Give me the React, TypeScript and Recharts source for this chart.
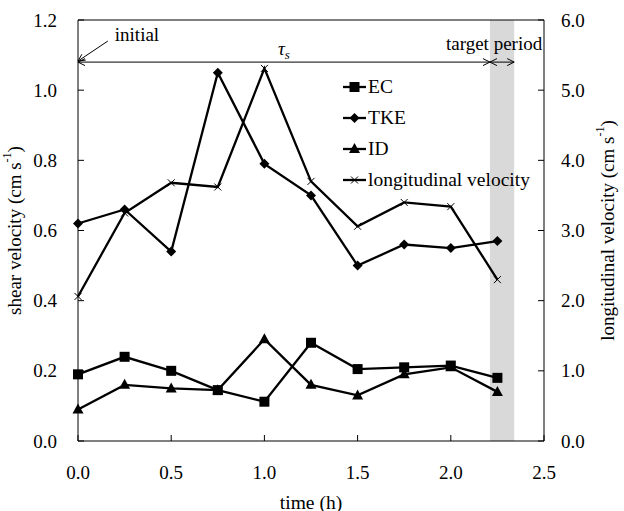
import React from "react";
import {
  ComposedChart,
  Line,
  XAxis,
  YAxis,
  ReferenceArea,
  ReferenceLine,
  Legend,
} from "recharts";

const FONT = '"Liberation Serif", "Times New Roman", serif';

// time (h) and measured values
const times = [0, 0.25, 0.5, 0.75, 1.0, 1.25, 1.5, 1.75, 2.0, 2.25];
const ecValues = [0.19, 0.24, 0.2, 0.145, 0.112, 0.28, 0.205, 0.21, 0.215, 0.18];
const tkeValues = [0.62, 0.66, 0.54, 1.05, 0.79, 0.7, 0.5, 0.56, 0.55, 0.57];
const idValues = [0.09, 0.16, 0.15, 0.145, 0.29, 0.16, 0.13, 0.19, 0.21, 0.14];
const velocityValues = [2.06, 3.25, 3.68, 3.62, 5.31, 3.7, 3.06, 3.4, 3.34, 2.3];

const seriesNames = ["EC", "TKE", "ID", "longitudinal velocity"];
const seriesMarkers = ["square", "diamond", "triangle", "cross"];

const xTicks = [0, 0.5, 1.0, 1.5, 2.0, 2.5];
const leftTicks = [0, 0.2, 0.4, 0.6, 0.8, 1.0, 1.2];
const rightTicks = [0, 1, 2, 3, 4, 5, 6];

const targetPeriod = [2.21, 2.34];
const periodLevel = 1.08;
const initialArrow = [
  { x: 0.16, y: 1.14 },
  { x: 0.0, y: 1.083 },
];

const data = times.map((t, i) => ({
  time: t,
  EC: ecValues[i],
  TKE: tkeValues[i],
  ID: idValues[i],
  velocity: velocityValues[i],
}));

function Marker({ shape, cx, cy }: any) {
  if (cx == null || cy == null) return null;
  if (shape === "square")
    return <rect x={cx - 5} y={cy - 5} width={10} height={10} fill="#000" />;
  if (shape === "diamond")
    return (
      <path
        d={`M${cx},${cy - 5}L${cx + 5},${cy}L${cx},${cy + 5}L${cx - 5},${cy}Z`}
        fill="#000"
      />
    );
  if (shape === "triangle")
    return (
      <path
        d={`M${cx},${cy - 6}L${cx + 5.5},${cy + 4}L${cx - 5.5},${cy + 4}Z`}
        fill="#000"
      />
    );
  return (
    <path
      d={`M${cx - 3.5},${cy - 3.5}L${cx + 3.5},${cy + 3.5}M${cx - 3.5},${cy + 3.5}L${cx + 3.5},${cy - 3.5}`}
      stroke="#000"
      strokeWidth={1}
    />
  );
}

const dotFor = (shape: string) => (p: any) =>
  <Marker key={`${shape}-${p.index}`} shape={shape} cx={p.cx} cy={p.cy} />;

function BottomTick({ x, y, payload }: any) {
  return (
    <g>
      <line x1={x} x2={x} y1={y} y2={y - 6} stroke="#000" />
      <text x={x} y={y + 31} textAnchor="middle" dominantBaseline="central"
        fontSize={19} fontFamily={FONT} fill="#000">
        {Number(payload.value).toFixed(1)}
      </text>
    </g>
  );
}

function LeftTick({ x, y, payload }: any) {
  return (
    <g>
      <line x1={x} x2={x + 6} y1={y} y2={y} stroke="#000" />
      <text x={x - 21} y={y} textAnchor="end" dominantBaseline="central"
        fontSize={19} fontFamily={FONT} fill="#000">
        {Number(payload.value).toFixed(1)}
      </text>
    </g>
  );
}

function RightTick({ x, y, payload }: any) {
  return (
    <g>
      <line x1={x} x2={x - 6} y1={y} y2={y} stroke="#000" />
      <text x={x + 17} y={y} textAnchor="start" dominantBaseline="central"
        fontSize={19} fontFamily={FONT} fill="#000">
        {Number(payload.value).toFixed(1)}
      </text>
    </g>
  );
}

function arrowHead(tx: number, ty: number, fx: number, fy: number) {
  const dx = tx - fx;
  const dy = ty - fy;
  const len = Math.sqrt(dx * dx + dy * dy) || 1;
  const ux = dx / len;
  const uy = dy / len;
  const L = 7;
  const W = 3.5;
  const bx = tx - ux * L;
  const by = ty - uy * L;
  return `M${bx - uy * W},${by + ux * W}L${tx},${ty}L${bx + uy * W},${by - ux * W}`;
}

function ArrowSegment(props: any) {
  const { x1, y1, x2, y2, both, children } = props;
  let d = `M${x1},${y1}L${x2},${y2}` + arrowHead(x2, y2, x1, y1);
  if (both) d += arrowHead(x1, y1, x2, y2);
  return (
    <g>
      <path d={d} stroke="#000" strokeWidth={1} fill="none" />
      {children ? children(props) : null}
    </g>
  );
}

function LegendBox() {
  return (
    <div style={{ fontFamily: FONT, fontSize: 19.5, color: "#000" }}>
      {seriesNames.map((name, i) => (
        <div key={name} style={{ display: "flex", alignItems: "center", height: 31 }}>
          <svg width={25} height={14} style={{ display: "block" }}>
            <line x1={0} x2={23} y1={7} y2={7} stroke="#000" strokeWidth={2.3} />
            <Marker shape={seriesMarkers[i]} cx={11.5} cy={7} />
          </svg>
          <span style={{ whiteSpace: "nowrap" }}>{name}</span>
        </div>
      ))}
    </div>
  );
}

function UnitTitle({ x, y, text, rotate }: any) {
  return (
    <text x={x} y={y} textAnchor="middle" dominantBaseline="central"
      fontSize={19} fontFamily={FONT} fill="#000"
      transform={rotate ? `rotate(-90, ${x}, ${y})` : undefined}>
      {text} (cm s
      <tspan dy={-7} fontSize={12}>-1</tspan>
      <tspan dy={7}>)</tspan>
    </text>
  );
}

export default function App() {
  return (
    <div style={{ position: "absolute", left: 0, top: 0 }}>
      <ComposedChart width={624} height={511} data={data}
        margin={{ top: 20, right: 0, bottom: 0, left: 0 }}>
        <ReferenceArea yAxisId="left" x1={targetPeriod[0]} x2={targetPeriod[1]}
          y1={0} y2={1.2} fill="#d9d9d9" fillOpacity={1} stroke="none" />
        <XAxis dataKey="time" type="number" domain={[0, 2.5]} ticks={xTicks}
          height={70} tickSize={0} tickMargin={0} tick={<BottomTick />}
          axisLine={{ stroke: "#000" }}
          label={{
            content: ({ viewBox }: any) => (
              <text x={(viewBox?.x ?? 78) + (viewBox?.width ?? 466) / 2}
                y={(viewBox?.y ?? 441) + 61} textAnchor="middle"
                dominantBaseline="central" fontSize={19.5} fontFamily={FONT} fill="#000">
                time (h)
              </text>
            ),
          }} />
        <YAxis yAxisId="left" domain={[0, 1.2]} ticks={leftTicks} width={78}
          tickSize={0} tickMargin={0} tick={<LeftTick />} axisLine={{ stroke: "#000" }}
          label={{
            content: ({ viewBox }: any) => (
              <UnitTitle x={(viewBox?.x ?? 0) + 14}
                y={(viewBox?.y ?? 20) + (viewBox?.height ?? 421) / 2}
                text="shear velocity" rotate />
            ),
          }} />
        <YAxis yAxisId="right" orientation="right" domain={[0, 6]} ticks={rightTicks}
          width={80} tickSize={0} tickMargin={0} tick={<RightTick />}
          axisLine={{ stroke: "#000" }}
          label={{
            content: ({ viewBox }: any) => (
              <UnitTitle x={(viewBox?.x ?? 544) + 63}
                y={(viewBox?.y ?? 20) + (viewBox?.height ?? 421) / 2}
                text="longitudinal velocity" rotate />
            ),
          }} />
        <ReferenceLine yAxisId="left" y={1.2} stroke="#000" />
        <ReferenceLine yAxisId="left"
          segment={[{ x: 0, y: periodLevel }, { x: targetPeriod[0], y: periodLevel }]}
          shape={(p: any) => (
            <ArrowSegment {...p} both>
              {(q: any) => (
                <text x={(q.x1 + q.x2) / 2} y={q.y1 - 7} textAnchor="middle"
                  fontSize={19} fontFamily={FONT} fontStyle="italic" fill="#000">
                  τ<tspan fontSize={13} dy={4}>s</tspan>
                </text>
              )}
            </ArrowSegment>
          )} />
        <ReferenceLine yAxisId="left"
          segment={[{ x: targetPeriod[0], y: periodLevel }, { x: targetPeriod[1], y: periodLevel }]}
          shape={(p: any) => (
            <ArrowSegment {...p} both>
              {(q: any) => (
                <text x={q.x2 + 28} y={q.y1 - 12} textAnchor="end"
                  fontSize={19} fontFamily={FONT} fill="#000">
                  target period
                </text>
              )}
            </ArrowSegment>
          )} />
        <ReferenceLine yAxisId="left" segment={initialArrow}
          shape={(p: any) => (
            <ArrowSegment {...p}>
              {(q: any) => (
                <text x={q.x1 + 7} y={q.y1} textAnchor="start"
                  fontSize={19} fontFamily={FONT} fill="#000">
                  initial
                </text>
              )}
            </ArrowSegment>
          )} />
        <Line yAxisId="left" dataKey="EC" stroke="#000" strokeWidth={2.3}
          dot={dotFor("square")} isAnimationActive={false} />
        <Line yAxisId="left" dataKey="TKE" stroke="#000" strokeWidth={2.3}
          dot={dotFor("diamond")} isAnimationActive={false} />
        <Line yAxisId="left" dataKey="ID" stroke="#000" strokeWidth={2.3}
          dot={dotFor("triangle")} isAnimationActive={false} />
        <Line yAxisId="right" dataKey="velocity" stroke="#000" strokeWidth={2.3}
          dot={dotFor("cross")} isAnimationActive={false} />
        <Legend layout="vertical" align="center" verticalAlign="middle"
          content={() => <LegendBox />}
          wrapperStyle={{ position: "absolute", left: 343, top: 71, width: 220 }} />
      </ComposedChart>
    </div>
  );
}
